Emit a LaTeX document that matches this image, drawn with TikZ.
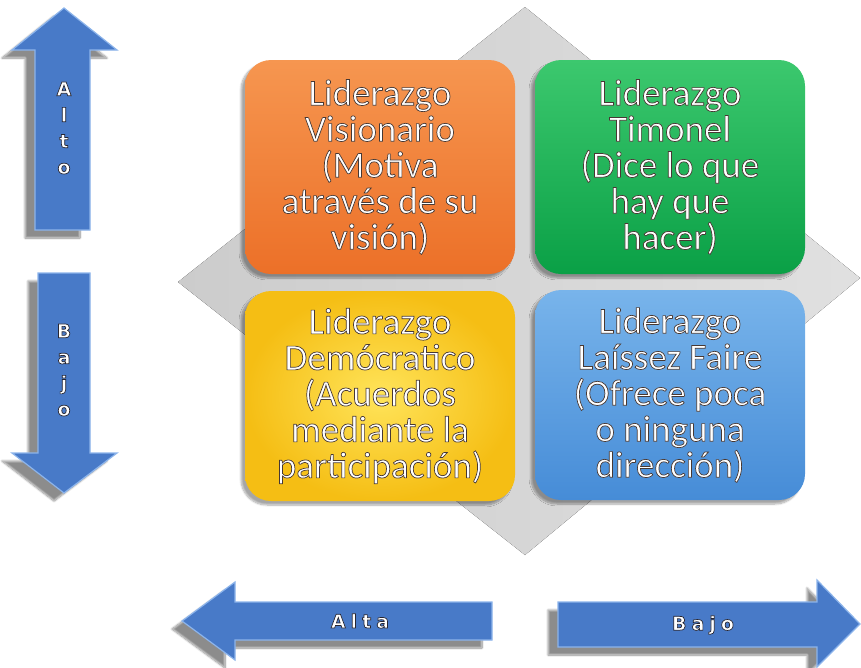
\documentclass[tikz,border=0pt]{standalone}
\usepackage{fontspec}
\setmainfont{Carlito}
\newfontfamily\arrowfont{DejaVu Sans}
\usetikzlibrary{shadows.blur}
\definecolor{arrowblue}{RGB}{72,122,200}
\definecolor{arrowedge}{RGB}{140,180,235}
\definecolor{orgA}{RGB}{246,150,80}
\definecolor{orgB}{RGB}{236,112,40}
\definecolor{grnA}{RGB}{60,200,110}
\definecolor{grnB}{RGB}{10,160,70}
\definecolor{yelA}{RGB}{255,228,90}
\definecolor{yelB}{RGB}{245,190,20}
\definecolor{bluA}{RGB}{120,180,235}
\definecolor{bluB}{RGB}{70,140,215}
\newcommand\outl{\special{pdf:literal direct 2 Tr 0.7 w 0.28 0.22 0.2 RG}}
\newcommand\outa{\special{pdf:literal direct 2 Tr 0.7 w 0.15 0.15 0.2 RG}}
\tikzset{
  quad/.style={rounded corners=26pt, minimum width=270pt, minimum height=214pt,
    text=white, align=center, inner sep=0pt,
    font=\fontsize{37}{36}\selectfont,
    blur shadow={shadow xshift=-4pt, shadow yshift=-4pt, shadow blur steps=8, shadow opacity=35}},
  bigarrow/.style={fill=arrowblue, draw=arrowedge, line width=1.2pt,
    blur shadow={shadow xshift=-10pt, shadow yshift=-8pt, shadow blur steps=10, shadow opacity=45}},
  alabel/.style={text=white, font=\arrowfont\bfseries\fontsize{19}{26}\selectfont, inner sep=0pt, align=center}
}
\begin{document}
\begin{tikzpicture}[x=1pt,y=-1pt]
\useasboundingbox (0,0) rectangle (861,667);
% background diamond
\fill[left color=black!20, right color=black!12] (525,7) -- (860,278) -- (525,555) -- (178,282) -- cycle;
% quadrants
\node[quad, top color=orgA, bottom color=orgB] (vis) at (380,167)
  {\outl Liderazgo\\Visionario\\(Motiva\\através de su\\visión)};
\node[quad, top color=grnA, bottom color=grnB] (tim) at (670,167)
  {\outl Liderazgo\\Timonel\\(Dice lo que\\hay que\\hacer)};
\node[quad, inner color=yelA, outer color=yelB, minimum height=210pt] (dem) at (380,396)
  {\outl Liderazgo\\Demócratico\\(Acuerdos\\mediante la\\participación)};
\node[quad, top color=bluA, bottom color=bluB, minimum height=210pt] (lai) at (670,395)
  {\outl Liderazgo\\Laíssez Faire\\(Ofrece poca\\o ninguna\\dirección)};
% arrows
\draw[bigarrow] (35,230) -- (35,50) -- (12,50) -- (64,8) -- (117,50) -- (90,50) -- (90,230) -- cycle;
\draw[bigarrow] (38,273) -- (90,273) -- (90,453) -- (117,453) -- (64,493) -- (12,453) -- (38,453) -- cycle;
\draw[bigarrow] (182,621) -- (235,582) -- (235,602) -- (492,602) -- (492,640) -- (235,640) -- (235,660) -- cycle;
\draw[bigarrow] (558,602) -- (817,602) -- (817,580) -- (860,624) -- (817,667) -- (817,647) -- (558,647) -- cycle;
% arrow labels
\node[alabel] (alto) at (64,128) {\outa A\\l\\t\\o};
\node[alabel] (bajo1) at (64,370) {\outa B\\a\\j\\o};
\node[alabel] (alta) at (360,621) {\outa A\hspace{5pt}l\hspace{5pt}t\hspace{5pt}a};
\node[alabel] (bajo2) at (703,625) {\outa B\hspace{5pt}a\hspace{5pt}j\hspace{5pt}o};
\end{tikzpicture}
\end{document}
